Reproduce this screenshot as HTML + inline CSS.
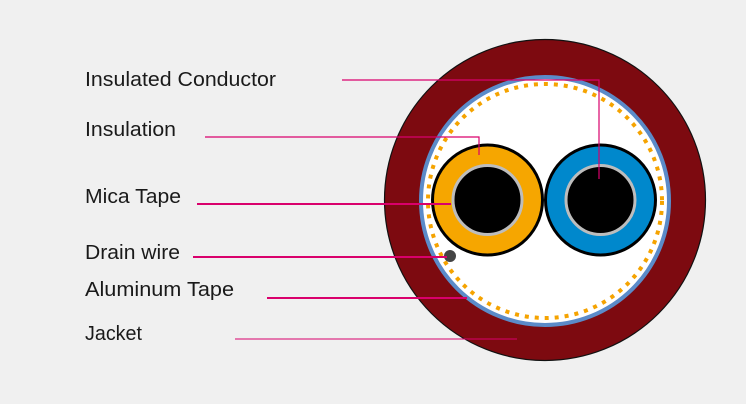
<!DOCTYPE html>
<html><head><style>html,body{margin:0;padding:0;background:#f0f0f0;}svg{display:block}</style></head>
<body>
<svg width="746" height="404" viewBox="0 0 746 404" xmlns="http://www.w3.org/2000/svg">
<rect width="746" height="404" fill="#f0f0f0"/>
<circle cx="545" cy="200" r="160.5" fill="#7d0a10" stroke="#111" stroke-width="1.2"/>
<circle cx="545" cy="201" r="124" fill="#fff" stroke="#5b8bc9" stroke-width="4"/>
<circle cx="545" cy="201" r="117" fill="none" stroke="#f5a300" stroke-width="4" stroke-dasharray="4 6"/>
<circle cx="487.5" cy="200" r="55" fill="#f6a600" stroke="#000" stroke-width="3"/>
<circle cx="487.5" cy="200" r="34.5" fill="#000" stroke="#bdbdbd" stroke-width="3"/>
<circle cx="600.5" cy="200" r="55" fill="#0088cc" stroke="#000" stroke-width="3"/>
<circle cx="600.5" cy="200" r="34.5" fill="#000" stroke="#bdbdbd" stroke-width="3"/>
<circle cx="450" cy="256" r="6" fill="#444"/>
<g stroke="#d9006c" fill="none">
<polyline points="342,80 599,80 599,179" stroke-width="1.2"/>
<polyline points="205,137 479,137 479,155" stroke-width="1.2"/>
<line x1="197" y1="204" x2="451" y2="204" stroke-width="2"/>
<line x1="193" y1="257" x2="447" y2="257" stroke-width="2"/>
<line x1="267" y1="298" x2="467" y2="298" stroke-width="2"/>
<line x1="235" y1="339" x2="517" y2="339" stroke-width="1"/>
</g>
<g font-family="Liberation Sans, sans-serif" font-size="20" fill="#1a1a1a">
<text x="85" y="86" textLength="191" lengthAdjust="spacingAndGlyphs">Insulated Conductor</text>
<text x="85" y="136" textLength="91" lengthAdjust="spacingAndGlyphs">Insulation</text>
<text x="85" y="203" textLength="96" lengthAdjust="spacingAndGlyphs">Mica Tape</text>
<text x="85" y="259" textLength="95" lengthAdjust="spacingAndGlyphs">Drain wire</text>
<text x="85" y="296" textLength="149" lengthAdjust="spacingAndGlyphs">Aluminum Tape</text>
<text x="85" y="340" textLength="57" lengthAdjust="spacingAndGlyphs">Jacket</text>
</g>
</svg>
</body></html>
